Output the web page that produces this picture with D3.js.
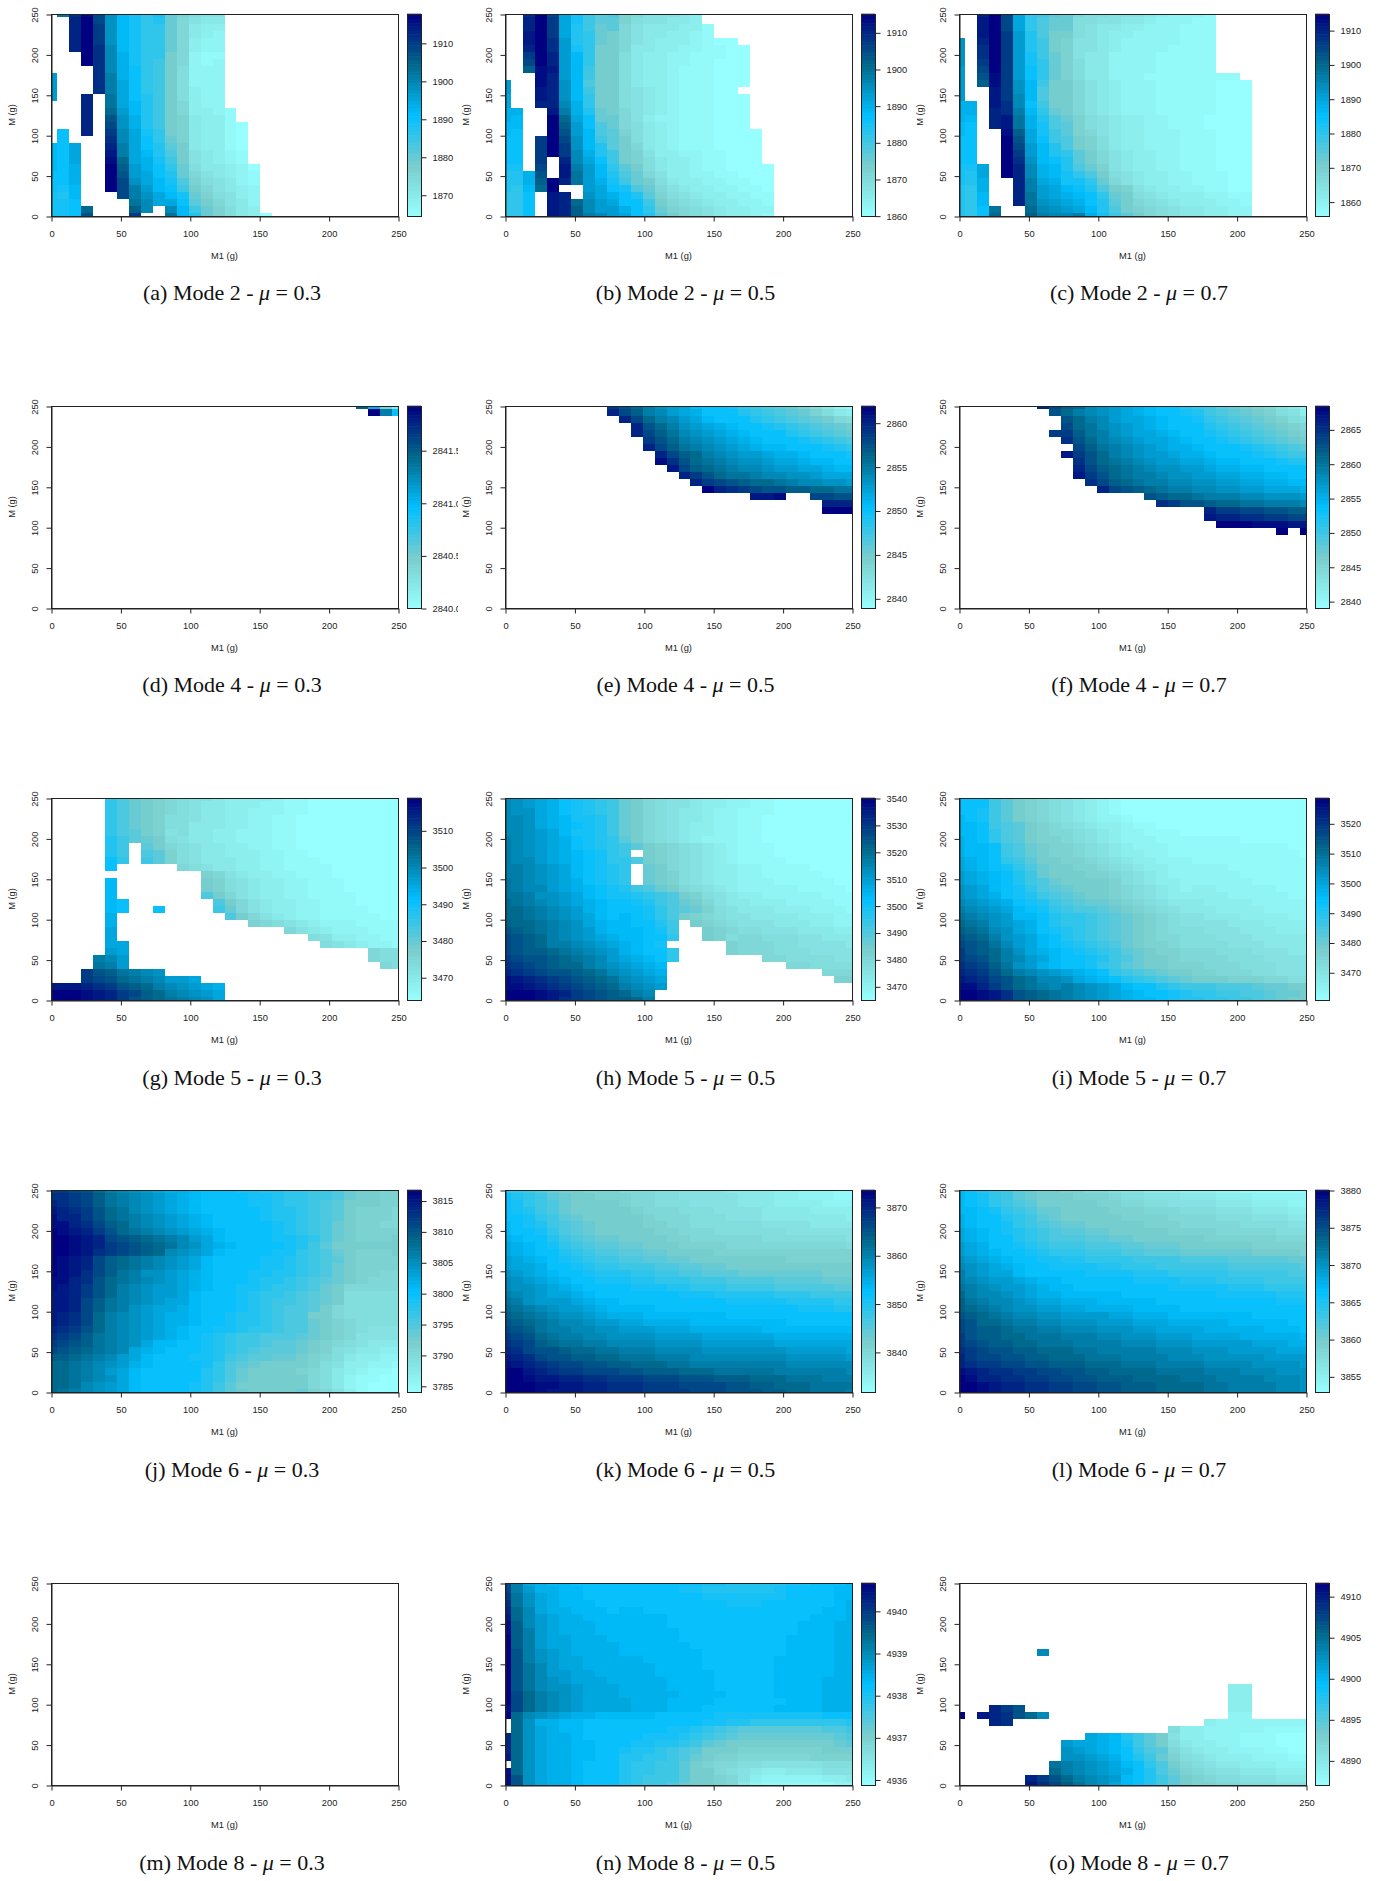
<!DOCTYPE html>
<html>
<head>
<meta charset="utf-8">
<script src="https://cdn.jsdelivr.net/npm/d3@7"></script>
<style>
  body { margin: 0; background: #fff; }
  svg { display: block; }
  text { font-family: "Liberation Sans", Arial, sans-serif; fill: #222; }
  .caption { font-family: "Liberation Serif", serif; fill: #111; }
</style>
</head>
<body>
<svg id="chart" width="1380" height="1881"></svg>
<script>
// each grid is 30 rows (M = 250 at the top down to 0) of 30 cells (M1 = 0 to 250)
// a cell is one base 36 digit, 0 = bottom of that colorbar, z = top, "." = no result
// spaces only make the rows easier to count, short rows are blank to the right
var mode2Mu03 = [
  ".pvytmigeg a8655", "..wztmigef a7544", "..wzumigee a7433", "..wzumigee a7432", "..wzumigee a7322",
  "..wzvnigee a7322", "...zvnjgee 97211", "...zvnjged 97212", "....vnjhed 96222", "l...vojhed 96222",
  "l...vokhed 96222", "l...vokhed 96322", "l..w.pkhfd 96322", "...w.pkifd 97322", "...w.qlifd 973321",
  "...w.smjfd 984331", "...w.tmjfd 9843310", ".h.w.unkge 9843310", ".h...vnkhe a843310", "ihk..wokhf b943310",
  "ihk..xokif c954321", "ihk..yqkjg d954321", "ihj..zrljh ea644320", "hhj..zslkh fa754321", "hhj..ztmki gc865421",
  "hgi..ztoli hd975432", "gfi...tomk iga86532", "ggh....pnk khb97542", "gghq...rn. nida8643", "gghs...u.. pifa86430"
];
var mode2Mu05 = [
  "..vztkgdbc 8755543", "..wzukgdbb 8655443", "..wzukfdab 75444331", "..xzukfea9 75443321", "..xzvlfea9 7543332100",
  "..wzvlge99 74433221100", "..uzwlie99 64332211100", "..tzwlie99 64332211000", "..ryxlid99 64332111000", "...ywlid99 64332111000",
  "l..ywmic99 64332111000", "l..xwmid99 6543211100", "k..xwmie99 65432111000", "k..wwnje99 65432111000", "jj..xojfa9 75432111000",
  "ji..zqkhaa 75322111000", "ii..zrlhca 76432111000", "ih..zslicb 864321110000", "hh.uztmidb 964321110000", "hh.uzumifb 974321110000",
  "hh.uzunjfd 985332211000", "hh.u.wnkhd 986433211000", "gg.t.xolie b964332110000", "ffjs.xplif ca75332211000", "ffjrzwpljg da96433221100",
  "feiqz..lkh gca7543322110", "eeh.xw.mkj hfb8654332211", "eeh.xwqnlk hhd9765433221", "eeh.xwrnll jhea876543322", "eeh.xwronl khfb976543321"
];
var mode2Mu07 = [
  "..wztkedba 766555432221", "..xztkecaa 665544322211", "..xztkecaa 654433222111", "..xzulfc99 654332222111", "m.wzulfd98 554322222111",
  "m.vzulfd98 554322221111", "m.vzulgda8 544222211111", "m.uzulgea8 644222211111", "l.tzulhea8 644222211111", "l.syulhea8 64422211111111",
  "l.ryumid99 754322211111000", "l..xumic99 754322211111000", "l..xunic99 754322211111000", "jj.xvnhd99 754322211111000", "jj.wvoiea9 754322211111000",
  "ji.wxpjfca 865433221110000", "ih.wxpjgcb 865433221110000", "ih..yrkgdb 875433222111000", "hh..zskhdc 986433222111000", "hh..ztlifc 986433222111000",
  "hh..zulife b97543322111000", "hh..zvmihf b97543322111000", "ggk.zwnjif ca8543322111000", "gfk.zwnjig ec9654332211100", "gfj..wokjg gea754332211100",
  "fej..wolki hfc985433221100", "fei..wplkj ihea96543332211", "fei..wpmlk jhfb97654333221", "fehp..qnml kifc98765443322", "fehq..ronn ojgdb9765443322"
];
var mode4Mu03 = [
  ".......... .......... ......rj84", ".......... .......... .......zoh"
];
var mode4Mu05 = [
  ".........u sqomlkihhg edcba86421", ".........w tronlkjhhh fedcba8643", ".......... wtqonlkihh hfedcba976", ".......... .wsqomlkji hhgfedcba9", ".......... .wtrpnmlkj ihhhfedcba",
  ".......... ..usqonmlk jihhhgfedc", ".......... ..wtrponml kjiihhhgfe", ".......... ...wtrqonm llkjjihhhg", ".......... ...yvsqpon mmlkkjiihh", ".......... ....xtrqpo nnmllkkjii",
  ".......... .....wusqp ponnmmlkkk", ".......... ......wuts rqqponnmml", ".......... .......zwv utssrrqqpp", ".......... .......... .xxy..ttss", ".......... .......... .......www",
  ".......... .......... .......zzz"
];
var mode4Mu07 = [
  ".......wtr qnmlkjihhf edba987542", "........sq onmlkjihhg fdcba98653", ".........s qonlkkjihh gedcba9865", ".........t qpnmlkjihh hfedcba987", "........uu rpomlkkjih hgfedcba98",
  ".........v sqonmlkkji hhgfedcba9", ".......... trponmlkjj ihhhgfedcb", ".........x usqonmllkj jihhhgfedd", ".......... vsqponmllk kjiihhhgff", ".......... wtrqponmml lkjjiihhhh",
  ".......... xusqpoonmm llkkjjiihh", ".......... .vtrqpoonn mmllkkjjii", ".......... ..wtsrqpoo nnmmllkkkj", ".......... ......srqq pooonnmmml", ".......... .......vus srqqppooon",
  ".......... .......... .wuuttssrr", ".......... .......... .xwwvvuutt", ".......... .......... ..zzzyyyxx", ".......... .......... .......z.z"
];
var mode5Mu03 = [
  ".....eca98 7655433332 1100000000", ".....eca98 7654433322 1100000000", ".....eca98 7654433222 1100000000", ".....eca98 6654433221 1000000000", ".....eca98 6644433221 1000000000",
  ".....ecb98 5644332221 1000000000", ".....fdba9 6544332221 1000000000", ".....fd.b9 7654433221 1000000000", ".....fd.cb 8654433322 1100000000", ".....he.db 8654443322 1110000000",
  ".....h.... .765443322 1111000000", "..........  ...8754332 2111000000", ".....i.... ...9865433 2211100000", ".....i.... ...9865433 2211100000", ".....i.... ...c975433 2211110000",
  ".....ih... ....c97543 3221110000", ".....ih..h ....da7543 3221111000", ".....j.... .....c9754 3221111100", ".....j.... .......876 5432221111", ".....k.... .......... 7543222111",
  ".....k.... .......... ..65332211", ".....kk... .......... ...6543221", ".....lk... .......... .......766", "....onl... .......... .......766", "....pol... .......... ........76",
  "...usrponm", "...utsqpon llk", "xxxwvusrqo nmlkj", "zzzyxwutrq onmlk", "zzzyxwusrq ponmk"
];
var mode5Mu05 = [
  "nmlkjhgfed a976554332 2110000000", "nmlkjhgfed a976554332 2110000000", "nmmkjhgfed a976544322 1110000000", "nnmkjiggfd a976544322 1100000000", "nnmkjihgfd a976543322 1100000000",
  "nnmlkiggfd a976543322 1100000000", "onmlkjhgfe b976543222 1100000000", "onmlkjhgfe db98765432 1110000000", "onmlkjihge d.98765432 1110000000", "onnlkjihge ec98765432 1111000000",
  "oonmlkihgf e.a9765433 2211110000", "oonmlkihgf e.a9865433 2211111000", "ponmlkjhgf e.a9865433 2221111100", "ponnlkjihg fdca976543 2222211110", "ppommlkihg gfedc98654 3322222111",
  "qponmlkjih hgfdca9754 4333222211", "qqponmljih hhgecba865 4443332221", "qqponmlkih ihgec98765 5444433322", "rqqponmkji ihhfd.9876 5554443322", "srqponmlji iihgd..987 6655544433",
  "tsrqonmlkj iihhe..986 7766655444", "tsrqoonmlk jihg.....8 7776655554", "tsrrqponml jihhe....8 7776665555", "utssrqponl kjihe..... ..77666655", "vutsrqqonm lkji...... ....776666",
  "wvutssrqpn mlkj...... .......777", "yxwvutsrqp nmlk...... ........88", "yyxwvutsrq onml", "zzzyxwutsr qon", "zzzyxvutsr rqo"
];
var mode5Mu07 = [
  "hhhdb98765 4321000000 0000000000", "hhhdb98765 4321000000 0000000000", "hhgdb98765 4321000000 0000000000", "ihgdb98765 4322100000 0000000000", "iihdcb9876 5433211000 0000000000",
  "iihecb9877 6543221110 0000000000", "jihecb9887 6543222111 1111000000", "jiihdca988 7654322211 1111111100", "jiihdca988 7654332211 1111111110", "kjihedb998 8765433222 1111111111",
  "kjihgeca99 8876543322 2221111111", "lkjihfda99 9887654322 2222111111", "lkjihfdca9 9998654332 2222211111", "mlkihgecba 9998765432 3322222111", "mlkjhgfdcb a998765433 3332222211",
  "nmlkjhgfdc baa9876544 4333322222", "onmlkihged ccba987654 4433332222", "ponmliihfe edcba98765 5444333322", "qpomlkjhfe edcba98765 5554443333", "rqpnmkjhgf edcba98766 6555444333",
  "srqomlkihf edcba98776 6655544444", "tsrpnlkihg fedca98876 6665554444", "usrqomkjih gfedba9887 7766655544", "utsqonlkih hgfdca9987 7776665555", "vutrpmljih hgedba9988 8777666555",
  "wvusqonmlk jihedcba99 8877766555", "xwvtsqpnnm kjihfedcba 9998887766", "yywusqpono nmlkihhfed ddcccbaa99", "zzyxvsrqpo nmlkjihhgf eeddccbaa9", "zzyxvsrqpo nmlkjiihgf feeddcba99"
];
var mode6Mu03 = [
  "uutsqonmlk jjihhhggff eeddca9988", "vvutrponml kjihhhhggf eeddca9988", "wvutrponml kjihhhhggf eedcb99988", "xwvusqpnml kjihhhhhgf fedcb98887", "ywwusqponm lkjihhhhgf fedcb98887",
  "yywvtrqonm lkjihhhhhg fedca98877", "zyxwusqpon mlkjihhhhg fedca98888", "zzyxwtsrqp onlkihhhhg gfeca98889", "zzyxwutsrq pnmkjihhhh gfdb999999", "zzyxvutsrq nmlkihhhhg gedca98889",
  "zyxwtrqpon mlkihhhhgg fedcb98888", "zyxwtrqpon mlkihhhhgg fedca98888", "zyxvtrpomm lkjihhhggf fedca98877", "yywvsqponm lkjihhhgff edcba98777", "yxwusqonml lkjihhggfe edca977777",
  "xxwusqonml lkihhhgfee dcba966666", "xxwtrponml kkihhhgfed dcba966666", "xxwtrpomlk kjihhhgfed ccb9766666", "xwvtqonmlk jjihhgffed cc99766666", "xwvtqonmlk jjihhgffed cca9876666",
  "wvusqonmlk jihhggfeed cca9876555", "vutrponmlk jihgfeddcc cba9875555", "utsrponmki ihhgfeddcb ba98765444", "tsrqponkji hhhgfedcbb ba98654433", "rrqponlkih hhggfdcbba a987643322",
  "qqponmljih hhhgecba99 9986533221", "qqponlkihh hhhfeca999 9876432110", "qqponmkihh hhhfeca999 9976421100", "qqpnmlkihh hhgfdb9999 9976421000", "qponmlkihh hhgfdba999 9a87531000"
];
var mode6Mu05 = [
  "fedca99888 7776655554 4443322211", "hfedba9988 8776655555 4443322211", "hgedca9999 8776665555 4443333222", "hgfdca9999 9877766655 5544443333", "hhgedba999 9987776665 5544444443",
  "ihgfdcba99 9988776666 6655554444", "ihhgecba99 9998877766 6666555555", "jihhfdcbaa 9999887777 7766666665", "kjihgedcbb aa99988887 7777777776", "kjihhfedcc bbaa999988 8888888888",
  "lkjihgfedd ccbbaa9999 9999888888", "lkkjhhgfee dddccbbaa9 9999999999", "mlkjihhgff feeddccbbb aaaaaaa999", "nmlkjihhgg gffeeedddc cccbbbbaaa", "nmmlkjihhh hgggffeeed dddcccccbb",
  "onmlkkjihh hhhhhgggff fffeeedddd", "pomlllkjii hhhhhhhhhg ggggffffee", "qponmllkji iiihhhhhhh hhhhhgggff", "rqponmmlkj jjiiiiiiih hhhhhhhhhh", "srqponnmll kkjjjjiiii iiiihhhhhh",
  "tsrpoonnmm lllkkkjjjj jjiiiiiiii", "utsqpoonnm mmmllllkkk kkkjjjjjjj", "vutrqppoon nnnmmmmlll lllkkkkkkk", "wvtssrqqpp ooonnnnmmm mmmmlllllk", "xwvtssrrqq pppooonnnn nnnnmmmmml",
  "yxwvuttssr rqqqppoooo oooonnnnnn", "zzxwvuuttt ssrrrqqqpp pppoooooon", "zzyxxwwvvu uutttsssrr rqqqpppooo", "zzzyyxxwwv vvuuutttts srrqqqpppp", "zzzyxxxwwv vvuuuuttts ssrrqqpppo"
];
var mode6Mu07 = [
  "ihfedba998 8776554443 3322111111", "ihgedba999 8887665554 4433322222", "ihgedcb999 9988776655 5544433322", "iihgedcaa9 9998887776 6655544433", "jihhfedba9 9999888877 7766655544",
  "jihhgedcba a999998887 7777666655", "kjihgfedcb baa9999988 8877777666", "kjihhfedcc cbbaa99999 9888888777", "lkjhhgfedd dcccbbaaa9 9999988888", "lkjihhgfee edddccbbba aaaaa99998",
  "mlkjihhggf feeeeddddc cccbbbbbaa", "nmlkjihhgg ggffeeeddd dddccccccb", "omlkkihhhh hggggfffee eeedddddcc", "onmllkjiih hhhhhggggf ffeeeedddd", "ponmllkjii hhhhhhhhgg gggfffeeee",
  "qonnmlkjji iiiihhhhhh hhgggggfff", "rponnmlkkj jjiiiiihhh hhhhhhhggg", "rqponmmllk kjjjjiiiih hhhhhhhhhh", "srqponnmml lllkkjjjii iiiiihhhhh", "tsqqpoonnm mmlllkkkjj jjjiiiiihh",
  "tsrrqppoon nnmmmllkkk kjjjjjiiih", "usrrqqpppo oonnmmmlll kkkkjjjjji", "utsrrqqppp oooonnnmmm lllllkkkjj", "vutssrrqqq ppooooonnn mmmllllkkk", "wuttssrrqq qpppoooonn nmmmmmllll",
  "wvuuttssrr rqqqpppooo onnnnmmmml", "yxwvvuutts srrqqqqppp pooonnnmmm", "zywwvvuutt ssrrrqqqqp ppoooonnnm", "zzyxwwvvuu ttssrrrqqq qppoooonnm", "zzyxwwvvuu ttssrrrqqq qppoooonnm"
];
var mode8Mu05 = [
  "tokjiihhhh hhhhhhhggf ffffgghhhi", "toljjiihhh hhhhhggfff fffghhhhii", "upmkjiihhh hhhhhhhggg gggghhhhii", "vpmkjiiihh hhhhhhhhhg gghhhhhhij", "wqnkjjiiih iihhhhhhhh hhhhhhhiij",
  "xqnlkjjiii iiiihhhhhh hhhhhhiiij", "yrnlkjjjii iiiihhhhhh hhhhhiiijj", "yrolkjjjii iiiiihhhhh hhhhhiiijj", "zrolkkjjji iiiiihhhhh hhhhiiiijj", "zrolkkjjjj iiiiiihhhh hhhhiiiijj",
  "zsomlkjjjj iiiiiiihhh hhhhiiiijj", "zsomlkkjjj jjiiiiihhh hhhiiiiijj", "zspnlkkjjj jjjiiiihhh hhhiiiiijj", "zspnllkkjj jjjiiiiihh hhhiiiiijj", "zspnmlkkkj jjjjiiiihh hhhiiiijjj",
  "zspnmmlkkk jjjjiiiihh hhhiiiijjj", "ztqonmlkkk jjjjjiiiih hhhiiiijjj", "ztqonmlkkk kjjjiiiihh hhhhiiijjj", "ytqonmlkkk kjjjiiihhh hhhiiiijjj", "zqnmlkjjii iiihhhhhgg ggggggghhh",
  ".qmjjiihhh hhhhhhhggf feeeeeeeef", ".qmkjiihhh hhhhggfedc bbbbbbbccd", "wqmkjjihhh hhgggfedcb aaaaaaaabc", "wqmkjjiihh hggffedba9 99999999ab", "wqmkjjiihh gffedcb999 8888888999",
  "xqmkjjiihh ffeedca988 7777778888", ".qmkjjihhh feeddb9877 6655555666", "yqmkjjihhh feeddb9976 5433444555", "ysmkjjihhh fedddb9987 5322222334", "ysmkjjihhh feddca9987 4211111122"
];
var mode8Mu07 = [
  "", "", "", "", "", "", "", "", "", "",
  ".......n", "", "", "", "",
  ".......... .......... ...33", ".......... .......... ...33", ".......... .......... ...33", "...wus.... .......... ...33", "z.xwvsqn.. .......... ...22",
  "...wv..... .......... .322222222", ".......... ........63 3222221111", ".......... .kjifdb953 3222111000", ".........l kkjigdb964 3322111000", ".........m lkjihecb75 4332221100",
  ".........m mlkjhfda86 5433322211", "........po nmlkihec97 6544333222", "........qo nmlkjhfca8 7655444333", "......wusq onmlihfdb9 8766555444", "......xvtr pnmkihfdb9 8877666555"
];

var levelCount = 36;
var panelLetters = ["a", "b", "c", "d", "e", "f", "g", "h", "i", "j", "k", "l", "m", "n", "o"];
var modeNames = [2, 4, 5, 6, 8];
var frictionValues = ["0.3", "0.5", "0.7"];
var massTicks = [0, 50, 100, 150, 200, 250];

var barLow = [1864.4, 1859.9, 1855.8, 2840, 2838.9, 2839, 3463.8, 3464.9, 3460.7, 3784, 3831.7, 3852.9, null, 4935.87, 4887];
var barHigh = [1917.6, 1915, 1914.7, 2841.92, 2861.9, 2868.4, 3518.8, 3540, 3528.5, 3816.7, 3873.5, 3880, null, 4940.66, 4911.6];
var barTicks = [
  [1870, 1880, 1890, 1900, 1910], [1860, 1870, 1880, 1890, 1900, 1910], [1860, 1870, 1880, 1890, 1900, 1910],
  [2840, 2840.5, 2841, 2841.5], [2840, 2845, 2850, 2855, 2860], [2840, 2845, 2850, 2855, 2860, 2865],
  [3470, 3480, 3490, 3500, 3510], [3470, 3480, 3490, 3500, 3510, 3520, 3530, 3540], [3470, 3480, 3490, 3500, 3510, 3520],
  [3785, 3790, 3795, 3800, 3805, 3810, 3815], [3840, 3850, 3860, 3870], [3855, 3860, 3865, 3870, 3875, 3880],
  [], [4936, 4937, 4938, 4939, 4940], [4890, 4895, 4900, 4905, 4910]
];
var panelRows = [
  mode2Mu03, mode2Mu05, mode2Mu07, mode4Mu03, mode4Mu05, mode4Mu07, mode5Mu03, mode5Mu05, mode5Mu07,
  mode6Mu03, mode6Mu05, mode6Mu07, [], mode8Mu05, mode8Mu07
];
var rampColors = ["#97FFFF", "#79CDCD", "#00BFFF", "#00688B", "#000080"];

var plotLefts = [51, 505, 959];
var plotTops = [14, 406, 798, 1190, 1583];
var plotWidth = 347;
var plotHeight = 202;
var captionCenters = [232, 685.5, 1139];
var fontSize = 9.3;

var gridSize = 30;
var gridStep = 250 / (gridSize - 1);

var svg = d3.select("#chart");

var defs = svg.append("defs");
defs
  .append("clipPath")
  .attr("id", "firstColumnClip")
  .append("rect")
  .attr("width", 458)
  .attr("height", 1881);

function parseRows(rows, lo, hi) {
  var cells = [];
  rows.forEach(function (row, r) {
    var digits = row.replace(/ /g, "");
    for (let c = 0; c < digits.length && c < gridSize; c++) {
      if (digits[c] === ".") continue;
      cells.push({
        col: c,
        row: gridSize - 1 - r,
        value: lo + (parseInt(digits[c], 36) / (levelCount - 1)) * (hi - lo),
      });
    }
  });
  return cells;
}

function styleAxis(axisGroup) {
  axisGroup.selectAll("text").style("font-size", fontSize + "px").style("font-family", null);
  axisGroup.selectAll("line,path").attr("stroke", "#222");
}

function drawPanel(index) {
  var colIndex = index % 3;
  var rowIndex = Math.floor(index / 3);
  var left = plotLefts[colIndex];
  var top = plotTops[rowIndex];

  var panel = svg.append("g");
  if (colIndex === 0) panel.attr("clip-path", "url(#firstColumnClip)");

  var xScale = d3.scaleLinear().domain([0, 250]).range([left, left + plotWidth]);
  var yScale = d3.scaleLinear().domain([0, 250]).range([top + plotHeight, top]);

  var lo = barLow[index];
  var hi = barHigh[index];

  // cells at the edge of the grid are cut in half, same as R image()
  if (lo !== null) {
    var colorScale = d3
      .scaleLinear()
      .domain(rampColors.map((d, i) => lo + (i / (rampColors.length - 1)) * (hi - lo)))
      .range(rampColors);

    panel
      .selectAll(".cell")
      .data(parseRows(panelRows[index], lo, hi))
      .enter()
      .append("rect")
      .attr("class", "cell")
      .attr("shape-rendering", "crispEdges")
      .attr("x", (d) => Math.round(xScale(Math.max(0, (d.col - 0.5) * gridStep))))
      .attr("width", function (d) {
        var x0 = Math.round(xScale(Math.max(0, (d.col - 0.5) * gridStep)));
        return Math.round(xScale(Math.min(250, (d.col + 0.5) * gridStep))) - x0;
      })
      .attr("y", (d) => Math.round(yScale(Math.min(250, (d.row + 0.5) * gridStep))))
      .attr("height", function (d) {
        var y0 = Math.round(yScale(Math.min(250, (d.row + 0.5) * gridStep)));
        return Math.round(yScale(Math.max(0, (d.row - 0.5) * gridStep))) - y0;
      })
      .attr("fill", (d) => colorScale(d.value));
  }

  panel
    .append("rect")
    .attr("x", left + 0.5)
    .attr("y", top + 0.5)
    .attr("width", plotWidth)
    .attr("height", plotHeight)
    .attr("fill", "none")
    .attr("stroke", "#222");

  var xAxis = d3.axisBottom(xScale).tickValues(massTicks).tickSize(5).tickPadding(9).tickSizeOuter(0);
  var xGroup = panel
    .append("g")
    .attr("transform", "translate(0.5," + (top + plotHeight + 0.5) + ")")
    .call(xAxis);
  styleAxis(xGroup);

  var yAxis = d3.axisLeft(yScale).tickValues(massTicks).tickSize(5).tickSizeOuter(0);
  var yGroup = panel
    .append("g")
    .attr("transform", "translate(" + (left + 0.5) + ",0.5)")
    .call(yAxis);
  styleAxis(yGroup);
  yGroup
    .selectAll("text")
    .attr("transform", "rotate(-90)")
    .attr("x", 0)
    .attr("y", -14)
    .attr("dy", 0)
    .style("text-anchor", "middle");

  panel
    .append("text")
    .attr("x", left + plotWidth / 2)
    .attr("y", top + plotHeight + 43)
    .attr("text-anchor", "middle")
    .style("font-size", fontSize + "px")
    .text("M1 (g)");

  panel
    .append("text")
    .attr("transform", "translate(" + (left - 36) + "," + (top + plotHeight / 2) + ") rotate(-90)")
    .attr("text-anchor", "middle")
    .style("font-size", fontSize + "px")
    .text("M (g)");

  if (lo !== null) {
    var barLeft = left + plotWidth + 9;
    var barWidth = 14;
    var barScale = d3.scaleLinear().domain([lo, hi]).range([top + plotHeight, top]);
    var barSteps = d3.range(0, 128).map((i) => lo + (i / 128) * (hi - lo));
    var barStep = (hi - lo) / 128;

    panel
      .selectAll(".barStep")
      .data(barSteps)
      .enter()
      .append("rect")
      .attr("class", "barStep")
      .attr("x", barLeft)
      .attr("width", barWidth)
      .attr("y", (d) => barScale(d + barStep) - 0.3)
      .attr("height", (d) => barScale(d) - barScale(d + barStep) + 0.6)
      .attr("fill", (d) => colorScale(d + barStep / 2));

    panel
      .append("rect")
      .attr("x", barLeft + 0.5)
      .attr("y", top + 0.5)
      .attr("width", barWidth)
      .attr("height", plotHeight)
      .attr("fill", "none")
      .attr("stroke", "#222");

    var barAxis = d3
      .axisRight(barScale)
      .tickValues(barTicks[index])
      .tickSize(5)
      .tickPadding(6)
      .tickSizeOuter(0)
      .tickFormat(index === 3 ? d3.format(".1f") : d3.format("d"));
    var barGroup = panel
      .append("g")
      .attr("transform", "translate(" + (barLeft + barWidth + 0.5) + ",0.5)")
      .call(barAxis);
    styleAxis(barGroup);
    barGroup.select(".domain").remove();
  }

  var caption = svg
    .append("text")
    .attr("class", "caption")
    .attr("x", captionCenters[colIndex])
    .attr("y", 300 + rowIndex * 392.4)
    .attr("text-anchor", "middle")
    .style("font-size", "22px");
  caption.append("tspan").text("(" + panelLetters[index] + ") Mode " + modeNames[rowIndex] + " - ");
  caption.append("tspan").style("font-style", "italic").text("μ");
  caption.append("tspan").text(" = " + frictionValues[colIndex]);
}

panelLetters.forEach(function (d, i) {
  drawPanel(i);
});
</script>
</body>
</html>
